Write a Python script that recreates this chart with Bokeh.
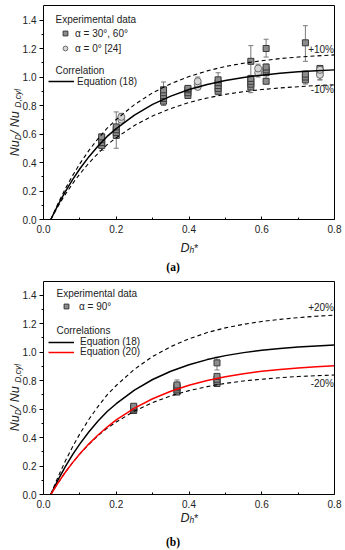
import math
from bokeh.plotting import figure
from bokeh.models import (Range1d, FixedTicker, PrintfTickFormatter, Label, Legend,
                          LegendItem, Whisker, TeeHead, ColumnDataSource, LinearAxis)
from bokeh.layouts import column
from bokeh.embed import file_html
from bokeh.resources import INLINE

# ---------------- data ----------------
x_curve = [0.02, 0.04, 0.06, 0.08, 0.10, 0.125, 0.15, 0.175, 0.20, 0.25, 0.30,
           0.35, 0.40, 0.45, 0.50, 0.55, 0.60, 0.65, 0.70, 0.75, 0.80]
eq18 = [0.0, 0.103, 0.196, 0.280, 0.356, 0.441, 0.516, 0.583, 0.638, 0.733, 0.808,
        0.866, 0.912, 0.948, 0.976, 0.997, 1.013, 1.026, 1.036, 1.044, 1.050]
eq18_plus10 = [0.0, 0.113, 0.216, 0.308, 0.392, 0.485, 0.568, 0.641, 0.702, 0.806, 0.889,
               0.953, 1.003, 1.043, 1.074, 1.097, 1.114, 1.129, 1.140, 1.148, 1.155]
eq18_minus10 = [0.0, 0.093, 0.176, 0.252, 0.320, 0.397, 0.464, 0.525, 0.574, 0.660, 0.727,
                0.779, 0.821, 0.853, 0.878, 0.897, 0.912, 0.923, 0.932, 0.940, 0.945]
eq18_plus20 = [0.0, 0.124, 0.235, 0.336, 0.427, 0.529, 0.619, 0.700, 0.766, 0.880, 0.970,
               1.039, 1.094, 1.138, 1.171, 1.196, 1.216, 1.231, 1.243, 1.253, 1.260]
eq18_minus20 = [0.0, 0.082, 0.157, 0.224, 0.285, 0.353, 0.413, 0.466, 0.510, 0.586, 0.646,
                0.693, 0.730, 0.758, 0.781, 0.798, 0.810, 0.821, 0.829, 0.835, 0.840]
eq20 = [0.0, 0.082, 0.156, 0.224, 0.286, 0.356, 0.418, 0.474, 0.524, 0.607, 0.673,
        0.726, 0.768, 0.801, 0.828, 0.849, 0.866, 0.879, 0.889, 0.898, 0.904]

# panel (a): alpha = 30, 60 deg (squares)
sq_a_x = [0.16, 0.16, 0.16, 0.16,
          0.20, 0.20, 0.20, 0.20,
          0.33, 0.33, 0.33, 0.33, 0.33,
          0.397, 0.397, 0.397, 0.397,
          0.48, 0.48, 0.48, 0.48, 0.48,
          0.57, 0.57, 0.57, 0.57, 0.57,
          0.612, 0.612, 0.612, 0.612, 0.612,
          0.72, 0.72, 0.72, 0.72,
          0.76, 0.76]
sq_a_y = [0.52, 0.54, 0.56, 0.58,
          0.59, 0.61, 0.63, 0.65,
          0.83, 0.85, 0.87, 0.89, 0.91,
          0.87, 0.89, 0.91, 0.92,
          0.90, 0.92, 0.94, 0.96, 0.98,
          0.93, 0.95, 0.97, 0.99, 1.11,
          0.97, 1.03, 1.05, 1.07, 1.20,
          0.98, 1.00, 1.02, 1.24,
          1.04, 1.06]
sq_a_err_x = [0.16, 0.20, 0.33, 0.397, 0.48, 0.57, 0.612, 0.612, 0.72, 0.72, 0.76]
sq_a_err_lo = [0.485, 0.50, 0.80, 0.85, 0.875, 0.89, 1.14, 0.99, 1.11, 0.95, 0.98]
sq_a_err_hi = [0.59, 0.755, 0.965, 0.94, 1.03, 1.22, 1.265, 1.09, 1.36, 1.04, 1.08]

# panel (a): alpha = 0 deg [24] (circles)
ci_a_x = [0.214, 0.214, 0.424, 0.424, 0.424, 0.59, 0.59, 0.76, 0.76]
ci_a_y = [0.70, 0.72, 0.93, 0.95, 0.97, 1.03, 1.06, 1.015, 1.05]
ci_a_err_x = [0.214, 0.424, 0.59, 0.76]
ci_a_err_lo = [0.68, 0.915, 1.00, 0.98]
ci_a_err_hi = [0.745, 1.00, 1.09, 1.07]

# panel (b): alpha = 90 deg (squares)
sq_b_x = [0.248, 0.248, 0.248, 0.248,
          0.367, 0.367, 0.367, 0.367, 0.367,
          0.477, 0.477, 0.477, 0.477, 0.477]
sq_b_y = [0.59, 0.60, 0.61, 0.62,
          0.72, 0.735, 0.75, 0.76, 0.77,
          0.78, 0.795, 0.81, 0.83, 0.925]
sq_b_err_x = [0.248, 0.367, 0.477, 0.477]
sq_b_err_lo = [0.58, 0.71, 0.77, 0.875]
sq_b_err_hi = [0.635, 0.805, 0.84, 0.965]

x_ticks = [0.0, 0.2, 0.4, 0.6, 0.8]
x_minor = [0.1, 0.3, 0.5, 0.7]
y_ticks = [0.0, 0.2, 0.4, 0.6, 0.8, 1.0, 1.2, 1.4]
y_minor = [0.1, 0.3, 0.5, 0.7, 0.9, 1.1, 1.3]
X_MAX, Y_MAX = 0.8, 1.5

FONT = "Liberation Sans"
SERIF = "Liberation Serif"
TXT = "#222222"

# ---------------- layout (page pixels) ----------------
W = 345
FL, FR = 43, 334                 # plot box left / right
XS = (FR - FL) / X_MAX           # px per x unit


class Panel:
    def __init__(self, top, bottom, box_bottom, yscale):
        self.top, self.bottom, self.box_bottom, self.ys = top, bottom, box_bottom, yscale

    def X(self, px):
        return (px - FL) / XS

    def Y(self, py):
        return (self.box_bottom - py) / self.ys


def make_fig(pn):
    p = figure(width=W, height=pn.bottom - pn.top,
               x_range=Range1d(pn.X(0), pn.X(W)),
               y_range=Range1d(pn.Y(pn.bottom), pn.Y(pn.top)),
               output_backend="svg", toolbar_location=None, min_border=0)
    p.grid.visible = False
    p.outline_line_color = None
    p.background_fill_color = "white"
    p.border_fill_color = "white"

    xa = p.xaxis[0]
    xa.fixed_location = 0
    xa.bounds = (0, X_MAX)
    xa.ticker = FixedTicker(ticks=x_ticks, minor_ticks=x_minor)
    xa.formatter = PrintfTickFormatter(format="%.1f")
    xa.major_tick_in, xa.major_tick_out = 3, 0
    xa.minor_tick_in, xa.minor_tick_out = 2, 0
    xa.major_label_standoff = 5

    ya = p.yaxis[0]
    ya.fixed_location = 0
    ya.bounds = (0, Y_MAX)
    ya.ticker = FixedTicker(ticks=y_ticks, minor_ticks=y_minor)
    ya.formatter = PrintfTickFormatter(format="%.1f")
    ya.major_tick_in, ya.major_tick_out = 0, 4
    ya.minor_tick_in, ya.minor_tick_out = 0, 2
    ya.major_label_standoff = 3

    top = LinearAxis(fixed_location=Y_MAX, bounds=(0, X_MAX), ticker=FixedTicker(ticks=[]),
                     major_tick_line_color=None, minor_tick_line_color=None)
    right = LinearAxis(fixed_location=X_MAX, bounds=(0, Y_MAX), ticker=FixedTicker(ticks=[]),
                       major_tick_line_color=None, minor_tick_line_color=None)
    p.add_layout(top, "above")
    p.add_layout(right, "right")

    for ax in (xa, ya, top, right):
        ax.axis_line_color = "black"
        ax.axis_line_width = 1
        ax.major_label_text_font = FONT
        ax.major_label_text_font_size = "10px"
        ax.major_label_text_color = TXT
    for ax in (xa, ya):
        ax.major_tick_line_color = "black"
        ax.minor_tick_line_color = "black"
    return p


def add_text(p, x, y, s, size="10px", style="normal", font=FONT, align="left",
             baseline="middle", angle=0.0, color=TXT):
    p.add_layout(Label(x=x, y=y, text=s, text_font=font, text_font_size=size,
                       text_font_style=style, text_align=align, text_baseline=baseline,
                       angle=angle, text_color=color))


def whiskers(p, xs, lo, hi):
    src = ColumnDataSource(dict(x=xs, lo=lo, hi=hi))
    w = Whisker(source=src, base="x", lower="lo", upper="hi", dimension="height",
                line_color="#7a7a7a", line_width=1, level="underlay",
                upper_head=TeeHead(size=5, line_color="#7a7a7a", line_width=1),
                lower_head=TeeHead(size=5, line_color="#7a7a7a", line_width=1))
    p.add_layout(w)


def axis_titles(p, pn, ylab_center, xlab_base, cap_y, cap):
    # rotated y-axis title: Nu_D / Nu_D,cyl
    pieces = [("Nu", "12.5px", 16.0, 0), ("D", "8.5px", 6.1, 3),
              (" / Nu", "12.5px", 26.4, 0), ("D,cyl", "8.5px", 18.9, 3)]
    total = sum(w for _, _, w, _ in pieces)
    start = ylab_center + total / 2
    cum = 0.0
    for s, size, w, shift in pieces:
        add_text(p, pn.X(14 + shift), pn.Y(start - cum), s, size=size, style="italic",
                 baseline="alphabetic", angle=math.pi / 2)
        cum += w
    # x-axis title: D_h*
    add_text(p, pn.X(180), pn.Y(xlab_base), "D", size="12.5px", style="italic",
             baseline="alphabetic")
    add_text(p, pn.X(189), pn.Y(xlab_base + 2.5), "h", size="8.5px", style="italic",
             baseline="alphabetic")
    add_text(p, pn.X(193.5), pn.Y(xlab_base), "*", size="11px", baseline="alphabetic")
    # caption
    add_text(p, pn.X(172.5), pn.Y(cap_y), cap, size="11.5px", style="bold", font=SERIF,
             align="center", color="black")


def legend_item(p, pn, label, renderer, glyph_left, center_y, gw, standoff, h=12):
    lg = Legend(items=[LegendItem(label=label, renderers=[renderer])],
                location=(glyph_left, round(pn.bottom - (center_y + h / 2))),
                glyph_width=gw, glyph_height=h, label_height=h, spacing=0,
                padding=0, margin=0, label_standoff=standoff, border_line_color=None,
                background_fill_alpha=0, label_text_font=FONT,
                label_text_font_size="10px", label_text_color=TXT)
    p.add_layout(lg)


SQ = dict(marker="square", size=6, fill_color="#8c8c8c", line_color="#383838", line_width=1)
CI = dict(marker="circle", size=7, fill_color="#d6d6d6", line_color="#6a6a6a", line_width=1)
DASH = dict(line_color="black", line_width=1.1, line_dash="4 3")

# ---------------- panel (a) ----------------
A = Panel(0, 276, 219, 142.5)
pa = make_fig(A)
whiskers(pa, sq_a_err_x, sq_a_err_lo, sq_a_err_hi)
whiskers(pa, ci_a_err_x, ci_a_err_lo, ci_a_err_hi)
r_sq_a = pa.scatter(sq_a_x, sq_a_y, **SQ)
r_ci_a = pa.scatter(ci_a_x, ci_a_y, **CI)
pa.line(x_curve, eq18_plus10, **DASH)
pa.line(x_curve, eq18_minus10, **DASH)
r_eq18_a = pa.line(x_curve, eq18, line_color="black", line_width=1.5)

axis_titles(pa, A, 122, 247, 266, "(a)")
add_text(pa, A.X(55), A.Y(19), "Experimental data")
add_text(pa, A.X(55), A.Y(70), "Correlation")
add_text(pa, A.X(333.5), A.Y(49), "+10%", align="right")
add_text(pa, A.X(333.5), A.Y(89), "-10%", align="right")
legend_item(pa, A, "\u03b1 = 30\u00b0, 60\u00b0", r_sq_a, 59, 33, 12, 4)
legend_item(pa, A, "\u03b1 = 0\u00b0 [24]", r_ci_a, 59, 47.7, 12, 4)
legend_item(pa, A, "Equation (18)", r_eq18_a, 48, 81, 26, 3)

# ---------------- panel (b) ----------------
B = Panel(276, 550, 494, 142.3)
pb = make_fig(B)
whiskers(pb, sq_b_err_x, sq_b_err_lo, sq_b_err_hi)
r_sq_b = pb.scatter(sq_b_x, sq_b_y, **SQ)
pb.line(x_curve, eq18_plus20, **DASH)
pb.line(x_curve, eq18_minus20, **DASH)
r_eq18_b = pb.line(x_curve, eq18, line_color="black", line_width=1.5)
r_eq20_b = pb.line(x_curve, eq20, line_color="#ff0000", line_width=1.5)

axis_titles(pb, B, 397, 517, 541, "(b)")
add_text(pb, B.X(56), B.Y(293), "Experimental data")
add_text(pb, B.X(56), B.Y(330), "Correlations")
add_text(pb, B.X(333.5), B.Y(307), "+20%", align="right")
add_text(pb, B.X(333.5), B.Y(383), "-20%", align="right")
legend_item(pb, B, "\u03b1 = 90\u00b0", r_sq_b, 60, 306, 12, 7)
legend_item(pb, B, "Equation (18)", r_eq18_b, 48, 341.7, 26, 6, h=10)
legend_item(pb, B, "Equation (20)", r_eq20_b, 48, 351.7, 26, 6, h=10)

layout = column(pa, pb)
open("out.html", "w").write(file_html(layout, INLINE))
